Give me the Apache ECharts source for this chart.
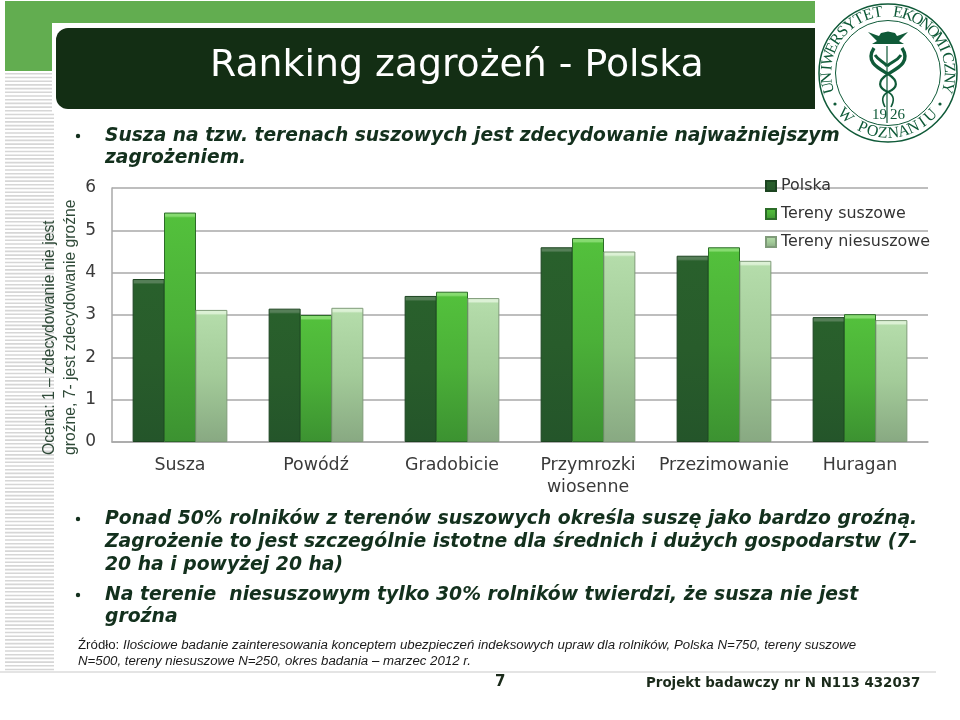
<!DOCTYPE html>
<html><head><meta charset="utf-8">
<style>html,body{margin:0;padding:0;background:#fff}#c{width:960px;height:720px}</style>
<script src="https://cdn.jsdelivr.net/npm/echarts@6/dist/echarts.min.js"></script>
</head><body><div id="c"></div>
<script>
const categories = ['Susza','Powódź','Gradobicie','Przymrozki\nwiosenne','Przezimowanie','Huragan'];
const polska = [3.85,3.15,3.45,4.6,4.4,2.95];
const suszowe = [5.42,3.0,3.55,4.82,4.6,3.02];
const niesuszowe = [3.12,3.17,3.4,4.5,4.28,2.88];
const seriesNames = ['Polska','Tereny suszowe','Tereny niesuszowe'];
const yTicks = [0,1,2,3,4,5,6];

const INK = '#13301d';
// top bevel of about 3.5px whatever the bar height (the plot is 254px for 6 units)
const grad = (cols,v) => {const e=v?3.5/(v*254/6):0.03;return {type:'linear',x:0,y:0,x2:0,y2:1,colorStops:[
  {offset:0,color:cols[0]},{offset:e,color:cols[0]},{offset:e*1.5,color:cols[1]},{offset:0.5,color:cols[2]},{offset:1,color:cols[3]}]};};
const palettes = [
  {c:['#567f58','#29602c','#285c2b','#24552a'],b:'#1c4420'},
  {c:['#86db70','#53c03c','#4bb038','#3c9231'],b:'#2c6d28'},
  {c:['#dcf1d5','#b4dcaa','#a3cb99','#88a982'],b:'#7f9b79'}
];

const g = [];
// slide background
g.push({type:'rect',z:-10,shape:{x:5,y:1,width:810,height:22},style:{fill:'#62ad50'}});
g.push({type:'rect',z:-10,shape:{x:5,y:1,width:47,height:70},style:{fill:'#62ad50'}});
for(let y=73;y<672;y+=3.7){g.push({type:'rect',z:-10,shape:{x:5,y:y,width:49,height:1.6},style:{fill:'#d6d6d6'}});}
g.push({type:'rect',z:-9,shape:{x:52,y:23,width:770,height:90},style:{fill:'#fff'}});
g.push({type:'rect',z:-8,shape:{x:56,y:28,width:759,height:81,r:[12,0,0,12]},style:{fill:'#132e14'}});
g.push({type:'rect',z:-10,shape:{x:0,y:671,width:936,height:2},style:{fill:'#e4e4e4'}});
// texts
const t=(text,x,y,font,fill,extra)=>g.push({type:'text',z:5,style:Object.assign({text,x,y,font,fill:fill||INK,textVerticalAlign:'middle'},extra||{})});
t('Ranking zagrożeń - Polska',210,66,'37.8px "DejaVu Sans"','#ffffff');
const bodyFont='italic bold 18.8px "DejaVu Sans"';
t('Susza na tzw. terenach suszowych jest zdecydowanie najważniejszym',105,136,'italic bold 18.67px "DejaVu Sans"');
t('zagrożeniem.',105,158,'italic bold 18.67px "DejaVu Sans"');
[['Ponad 50% rolników z terenów suszowych określa suszę jako bardzo groźną.',519],
 ['Zagrożenie to jest szczególnie istotne dla średnich i dużych gospodarstw (7-',542],
 ['20 ha i powyżej 20 ha)',565],
 ['Na terenie  niesuszowym tylko 30% rolników twierdzi, że susza nie jest',595],
 ['groźna',617]].forEach(l=>t(l[0],105,l[1],bodyFont));
[136,519,595].forEach(y=>g.push({type:'circle',z:5,shape:{cx:78,cy:y,r:2.2},style:{fill:INK}}));
t('Źródło:',78,645,'13.25px "Liberation Sans"','#1a1a1a');
t('Ilościowe badanie zainteresowania konceptem ubezpieczeń indeksowych upraw dla rolników, Polska N=750, tereny suszowe',123,645,'italic 13.25px "Liberation Sans"','#1a1a1a');
t('N=500, tereny niesuszowe N=250, okres badania – marzec 2012 r.',78,661,'italic 13.25px "Liberation Sans"','#1a1a1a');
t('7',495,682,'bold 15px "DejaVu Sans"','#1a2a1a');
t('Projekt badawczy nr N N113 432037',646,684,'bold 13.4px "DejaVu Sans"','#1a2a1a');
// rotated axis title
[['Ocena: 1 – zdecydowanie nie jest',50],['groźne, 7- jest zdecydowanie groźne',71]].forEach(l=>{
  g.push({type:'text',z:5,x:l[1],y:455,rotation:Math.PI/2,style:{text:l[0],x:0,y:0,font:'15.7px "Liberation Sans"',fill:'#2f4a38',textVerticalAlign:'middle'}});
});
// logo
const LX=888,LY=73,LG='#0f5a38';
g.push({type:'circle',z:6,shape:{cx:LX,cy:LY,r:69},style:{fill:'#fff',stroke:LG,lineWidth:1.5}});
g.push({type:'circle',z:6,shape:{cx:LX,cy:LY,r:52.5},style:{fill:'none',stroke:LG,lineWidth:1}});
const arcTop='UNIWERSYTET EKONOMICZNY', arcBot='W POZNANIU';
const LF='16px "Liberation Serif"';
[...arcTop].forEach((ch,i)=>{const a=(-104+208*i/(arcTop.length-1))*Math.PI/180;
  g.push({type:'text',z:7,x:LX+61*Math.sin(a),y:LY-61*Math.cos(a),rotation:-a,style:{text:ch,x:0,y:0,font:LF,fill:LG,textAlign:'center',textVerticalAlign:'middle'}});});
[...arcBot].forEach((ch,i)=>{const a=(-45+90*i/(arcBot.length-1))*Math.PI/180;
  g.push({type:'text',z:7,x:LX+60.5*Math.sin(a),y:LY+60.5*Math.cos(a),rotation:a,style:{text:ch,x:0,y:0,font:LF,fill:LG,textAlign:'center',textVerticalAlign:'middle'}});});
[[-53,31],[52,31]].forEach(p=>g.push({type:'circle',z:7,shape:{cx:LX+p[0],cy:LY+p[1],r:1.6},style:{fill:LG}}));
const hat=[[-20,-41],[-12,-38],[-9,-37],[-7,-40],[0,-41.5],[7,-40],[9,-37],[12,-38],[20,-41],[11,-32],[16,-29],[-16,-29],[-11,-32]];
g.push({type:'polygon',z:7,x:LX,y:LY,shape:{points:hat},style:{fill:LG}});
const bz=(w,a,b,c,d,e,f,h,i)=>g.push({type:'bezierCurve',z:7,x:LX,y:LY,shape:{x1:a,y1:b,cpx1:c,cpy1:d,cpx2:e,cpy2:f,x2:h,y2:i},style:{fill:'none',stroke:LG,lineWidth:w}});
g.push({type:'line',z:7,x:LX,y:LY,shape:{x1:-1,y1:-27,x2:-1,y2:50},style:{stroke:LG,lineWidth:1.2}});
[-1,1].forEach(s=>{
  bz(3.4,s*14,-25,s*23,-11,s*10,-5,0,1);
  bz(2.2,0,1,-s*11,8,-s*10,15,0,19);
  bz(1.6,0,19,s*7,23,s*6,28,s*3,34);
  bz(3,s*13,-18,s*9,-12,s*5,-12,-1,-7);
});
g.push({type:'text',z:7,x:LX-16,y:LY+42,style:{text:'19',x:0,y:0,font:'15px "Liberation Serif"',fill:LG,textVerticalAlign:'middle'}});
g.push({type:'text',z:7,x:LX+2,y:LY+42,style:{text:'26',x:0,y:0,font:'15px "Liberation Serif"',fill:LG,textVerticalAlign:'middle'}});

const option={
  animation:false,
  backgroundColor:'#fff',
  textStyle:{fontFamily:'DejaVu Sans'},
  grid:{left:112,right:32,top:188,bottom:278,containLabel:false},
  legend:{orient:'vertical',left:760,top:173,itemWidth:10,itemHeight:10,itemGap:12,icon:'rect',
    data:seriesNames,selectedMode:false,textStyle:{fontSize:15.9,color:'#333',fontFamily:'DejaVu Sans'}},
  xAxis:{type:'category',data:categories,axisTick:{show:false},
    axisLine:{lineStyle:{color:'#a8a8a8',width:1.5}},
    axisLabel:{fontSize:17.4,color:'#3a3a3a',margin:13,lineHeight:21.5,interval:0,fontFamily:'DejaVu Sans'}},
  yAxis:{type:'value',min:0,max:6,interval:1,
    axisLine:{show:true,lineStyle:{color:'#a8a8a8',width:1.5}},axisTick:{show:false},
    splitLine:{lineStyle:{color:'#a8a8a8',width:1.5}},
    axisLabel:{fontSize:17,color:'#3a3a3a',margin:16,fontFamily:'DejaVu Sans',formatter:v=>yTicks.includes(v)?String(v):''}},
  series:[polska,suszowe,niesuszowe].map((d,i)=>({name:seriesNames[i],type:'bar',barWidth:32,barGap:'-2%',
    itemStyle:{color:grad(palettes[i].c,0),borderColor:palettes[i].b,borderWidth:1},
    data:d.map(v=>({value:v,itemStyle:{color:grad(palettes[i].c,v)}}))})),
  graphic:{elements:g}
};
echarts.init(document.getElementById('c'),null,{renderer:'canvas'}).setOption(option);
</script></body></html>
